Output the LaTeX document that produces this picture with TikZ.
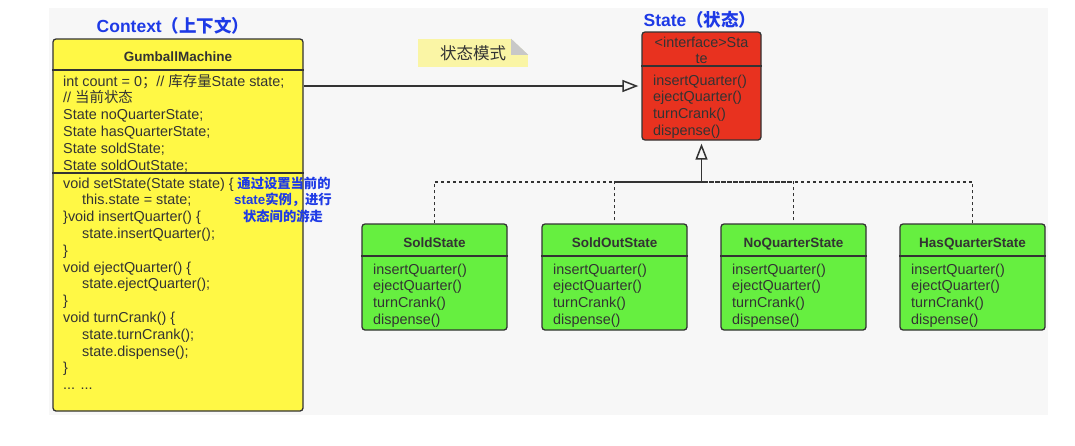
\documentclass[tikz,border=0pt]{standalone}
\usepackage{fontspec}
\setmainfont{Liberation Sans}
\newfontfamily\cjk{Noto Sans CJK SC}
\usetikzlibrary{arrows.meta}
\definecolor{ink}{HTML}{333333}
\definecolor{yellowf}{HTML}{FFF845}
\definecolor{redf}{HTML}{E8321F}
\definecolor{greenf}{HTML}{66EF40}
\definecolor{bluet}{HTML}{1E3AE6}
\definecolor{notef}{HTML}{FAF5A5}
\definecolor{bgc}{HTML}{F7F7F7}
\definecolor{foldc}{HTML}{C8C8C8}
\begin{document}
\begin{tikzpicture}[x=1pt,y=-1pt,
  box/.style={draw=ink, line width=1.3pt, rounded corners=3pt, inner sep=0pt},
  divline/.style={draw=ink, line width=1.3pt},
  txt/.style={font=\fontsize{14.4}{16}\selectfont, text=ink, anchor=base west, inner sep=0pt},
  hdr/.style={font=\fontsize{13.5}{16}\selectfont\bfseries, text=ink, anchor=base, inner sep=0pt},
  lbl/.style={font=\fontsize{17.5}{20}\selectfont\bfseries, text=bluet, inner sep=0pt},
  note/.style={font=\fontsize{13.3}{16}\selectfont\bfseries, text=bluet, anchor=base, inner sep=0pt},
  conn/.style={draw=ink, line width=1.6pt},
  dotline/.style={draw=ink, line width=1.8pt, dash pattern=on 3pt off 3pt},
  hollow/.style={-{Triangle[open, length=16pt, width=12pt, line width=1.5pt]}}
]
\useasboundingbox (0,0) rectangle (1075,445);
\fill[white] (0,0) rectangle (1075,445);
\fill[bgc] (49,8) rectangle (1048,415);

% ---- labels ----
\node[lbl] (ctxlbl) at (173,26) {Context{\cjk （上下文）}};
\node[lbl] (stlbl) at (700,20) {State{\cjk （状态）}};

% ---- note ----
\node[fill=notef, minimum width=110pt, minimum height=28pt, inner sep=0pt,
      font=\cjk\fontsize{16.5}{18}\selectfont, text=ink] (nt) at (473,53) {状态模式};
\fill[bgc] ([xshift=-17pt]nt.north east) -- (nt.north east) -- ([yshift=-16pt]nt.north east) -- cycle;
\fill[foldc] ([xshift=-17pt]nt.north east) -- ([xshift=-17pt,yshift=-16pt]nt.north east) -- ([yshift=-16pt]nt.north east) -- cycle;

% ---- GumballMachine ----
\node[box, fill=yellowf, minimum width=250pt, minimum height=372pt] (gm) at (178,225) {};
\draw[divline] (gm.west |- 0,70) -- (gm.east |- 0,70);
\draw[divline] (gm.west |- 0,173) -- (gm.east |- 0,173);
\node[hdr] (gmh) at (178,61) {GumballMachine};
\foreach \t [count=\i] in {
  {int count = 0{\cjk ；}// {\cjk 库存量}State state;},
  {// {\cjk 当前状态}},
  {State noQuarterState;},
  {State hasQuarterState;},
  {State soldState;},
  {State soldOutState;}}
  \node[txt] (ga\i) at (63,{86+16.8*(\i-1)}) {\t};
\foreach \x/\t [count=\i] in {
  63/{void setState(State state) \{},
  82/{this.state = state;},
  63/{\}void insertQuarter() \{},
  82/{state.insertQuarter();},
  63/{\}},
  63/{void ejectQuarter() \{},
  82/{state.ejectQuarter();},
  63/{\}},
  63/{void turnCrank() \{},
  82/{state.turnCrank();},
  82/{state.dispense();},
  63/{\}},
  63/{... ...}}
  \node[txt] (gb\i) at (\x,{188+16.8*(\i-1)}) {\t};

% ---- annotation ----
\node[note] (an1) at (284,188) {\cjk 通过设置当前的};
\node[note] (an2) at (283,204.5) {state{\cjk 实例，进行}};
\node[note] (an3) at (283,221) {\cjk 状态间的游走};

% ---- State interface ----
\node[box, fill=redf, minimum width=119pt, minimum height=108pt] (st) at (701.5,86) {};
\draw[divline] (st.west |- 0,66) -- (st.east |- 0,66);
\node[txt, anchor=base] (sth1) at (701.5,47.5) {<interface>Sta};
\node[txt, anchor=base] (sth2) at (701.5,63.5) {te};
\foreach \t [count=\i] in {insertQuarter(),ejectQuarter(),turnCrank(),dispense()}
  \node[txt] (sm\i) at (653,{85+16.7*(\i-1)}) {\t};

% ---- concrete states ----
\foreach \n/\cx/\name in {c1/434.5/SoldState, c2/614.5/SoldOutState, c3/793.5/NoQuarterState, c4/972.5/HasQuarterState}{
  \node[box, fill=greenf, minimum width=145pt, minimum height=106pt] (\n) at (\cx,277) {};
  \draw[divline] (\n.west |- 0,256) -- (\n.east |- 0,256);
  \node[hdr] (\n h) at (\cx,247) {\name};
  \foreach \t [count=\i] in {insertQuarter(),ejectQuarter(),turnCrank(),dispense()}
    \node[txt] (\n m\i) at ({\cx-61.5},{274+16.7*(\i-1)}) {\t};
}

% ---- connectors ----
\coordinate (jn) at (701.5,182);
\draw[conn, hollow, shorten >=3pt] (gm.east |- st.west) -- (st.west);
\draw[dotline] (c1.north) |- (jn);
\draw[dotline, dash phase=3pt] (c2.north) |- (jn);
\draw[dotline, dash phase=3pt] (c3.north) |- (jn);
\draw[dotline] (c4.north) |- (jn);
\draw[conn, hollow, shorten >=3pt] (jn) -- (st.south);
\end{tikzpicture}
\end{document}
